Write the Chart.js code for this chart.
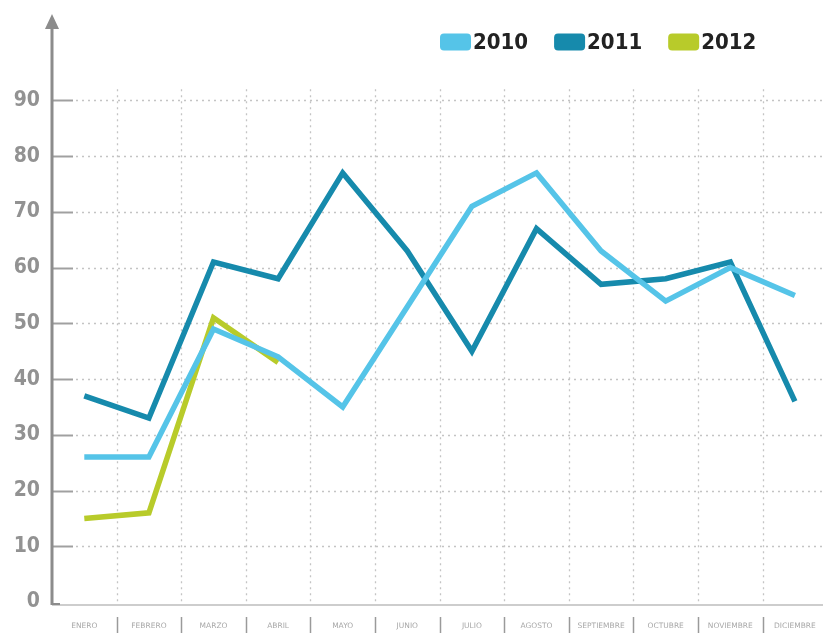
<!DOCTYPE html>
<html>
<head>
<meta charset="utf-8">
<script src="https://cdn.jsdelivr.net/npm/chart.js@4"></script>
<style>
  html, body { margin: 0; padding: 0; background: #ffffff; }
  canvas { display: block; }
</style>
</head>
<body>
<canvas id="c" width="823" height="634"></canvas>
<script>
// ---- data ----
const months = ["ENERO", "FEBRERO", "MARZO", "ABRIL", "MAYO", "JUNIO", "JULIO", "AGOSTO", "SEPTIEMBRE", "OCTUBRE", "NOVIEMBRE", "DICIEMBRE"];
const seriesNames = ["2010", "2011", "2012"];
const values2010 = [26, 26, 49, 44, 35, 53, 71, 77, 63, 54, 60, 55];
const values2011 = [37, 33, 61, 58, 77, 63, 45, 67, 57, 58, 61, 36];
const values2012 = [15, 16, 51, 43];
const yTickValues = [0, 10, 20, 30, 40, 50, 60, 70, 80, 90];

const colors = ["#55c4e8", "#168aac", "#b8cb2a"];
const axisGray = "#8c8c8c";
const labelFont = "'DejaVu Sans Condensed', 'DejaVu Sans', sans-serif";

const toPoints = arr => arr.map((v, i) => ({ x: i, y: v }));

const decor = {
  id: "decor",
  beforeDatasetsDraw(chart) {
    const ctx = chart.ctx;
    const a = chart.chartArea;
    const xs = chart.scales.x, ys = chart.scales.y;
    ctx.save();
    // horizontal grid
    yTickValues.forEach(v => {
      if (v === 0) return;
      const py = Math.round(ys.getPixelForValue(v)) + 0.5;
      ctx.setLineDash([2, 4]);
      ctx.strokeStyle = "#c4c4c4";
      ctx.lineWidth = 1.3;
      ctx.beginPath(); ctx.moveTo(a.left + 24, py); ctx.lineTo(chart.width, py); ctx.stroke();
      ctx.setLineDash([]);
      ctx.strokeStyle = "#a0a0a0";
      ctx.lineWidth = 2;
      ctx.beginPath(); ctx.moveTo(a.left, py); ctx.lineTo(a.left + 21, py); ctx.stroke();
    });
    // vertical grid at category boundaries
    const topV = ys.getPixelForValue(92);
    ctx.setLineDash([2, 4]);
    ctx.strokeStyle = "#c4c4c4";
    ctx.lineWidth = 1.3;
    for (let i = 1; i < months.length; i++) {
      const px = Math.round(xs.getPixelForValue(i - 0.5)) + 0.5;
      ctx.beginPath(); ctx.moveTo(px, topV); ctx.lineTo(px, a.bottom); ctx.stroke();
    }
    ctx.setLineDash([]);
    // x axis line
    ctx.strokeStyle = "#bdbdbd";
    ctx.lineWidth = 1.5;
    ctx.beginPath(); ctx.moveTo(a.left, a.bottom + 3); ctx.lineTo(chart.width, a.bottom + 3); ctx.stroke();
    // separators under x axis
    ctx.strokeStyle = "#9a9a9a";
    ctx.lineWidth = 1.5;
    for (let i = 1; i < months.length; i++) {
      const px = Math.round(xs.getPixelForValue(i - 0.5)) + 0.5;
      ctx.beginPath(); ctx.moveTo(px, a.bottom + 15); ctx.lineTo(px, a.bottom + 31); ctx.stroke();
    }
    // y axis with arrow
    ctx.strokeStyle = axisGray;
    ctx.lineWidth = 3;
    ctx.beginPath(); ctx.moveTo(a.left, a.top); ctx.lineTo(a.left, a.bottom + 3); ctx.stroke();
    ctx.lineWidth = 2;
    ctx.beginPath(); ctx.moveTo(a.left, a.bottom + 2); ctx.lineTo(a.left + 8, a.bottom + 2); ctx.stroke();
    ctx.fillStyle = axisGray;
    ctx.beginPath();
    ctx.moveTo(a.left, a.top - 14);
    ctx.lineTo(a.left - 7, a.top + 1);
    ctx.lineTo(a.left + 7, a.top + 1);
    ctx.closePath(); ctx.fill();
    ctx.restore();
  },
  afterDraw(chart) {
    const ctx = chart.ctx;
    ctx.save();
    ctx.font = "bold 22px " + labelFont;
    ctx.textBaseline = "middle";
    let x = 440;
    const yc = 42;
    chart.data.datasets.forEach((ds, i) => {
      ctx.fillStyle = ds.borderColor;
      ctx.beginPath();
      ctx.roundRect(x, yc - 8.5, 31, 17, 4);
      ctx.fill();
      x += 33;
      ctx.fillStyle = "#222222";
      ctx.fillText(ds.label, x, yc + 1);
      x += ctx.measureText(ds.label).width + 26;
    });
    ctx.restore();
  }
};

new Chart(document.getElementById("c"), {
  type: "line",
  data: {
    datasets: [
      { label: seriesNames[0], data: toPoints(values2010), borderColor: colors[0] },
      { label: seriesNames[1], data: toPoints(values2011), borderColor: colors[1] },
      { label: seriesNames[2], data: toPoints(values2012), borderColor: colors[2] }
    ].map(d => Object.assign(d, {
      borderWidth: 5.5, pointRadius: 0, pointHoverRadius: 0, tension: 0, fill: false,
      borderJoinStyle: "miter", borderCapStyle: "butt", backgroundColor: d.borderColor
    }))
  },
  options: {
    responsive: false,
    animation: false,
    layout: { padding: { top: 28, left: 0, right: 0, bottom: 0 } },
    plugins: { legend: { display: false }, tooltip: { enabled: false } },
    scales: {
      x: {
        type: "linear",
        min: -0.5,
        max: 11.435,
        grid: { display: false, drawTicks: false },
        border: { display: false },
        afterBuildTicks: s => { s.ticks = months.map((m, i) => ({ value: i })); },
        ticks: {
          callback: v => months[v],
          font: { family: "'DejaVu Sans', sans-serif", size: 7.5 },
          color: "#a8a8a8",
          padding: 20,
          maxRotation: 0, minRotation: 0, autoSkip: false
        },
        afterFit: s => { s.height = 32; s.paddingLeft = 0; s.paddingRight = 0; }
      },
      y: {
        min: 0,
        max: 103,
        grid: { display: false, drawTicks: false },
        border: { display: false },
        ticks: {
          stepSize: 10,
          font: { family: labelFont, size: 21, weight: "bold" },
          color: "#929292",
          padding: 12
        },
        afterBuildTicks: s => { s.ticks = yTickValues.map(v => ({ value: v })); },
        afterFit: s => { s.width = 52; }
      }
    }
  },
  plugins: [decor]
});
</script>
</body>
</html>
